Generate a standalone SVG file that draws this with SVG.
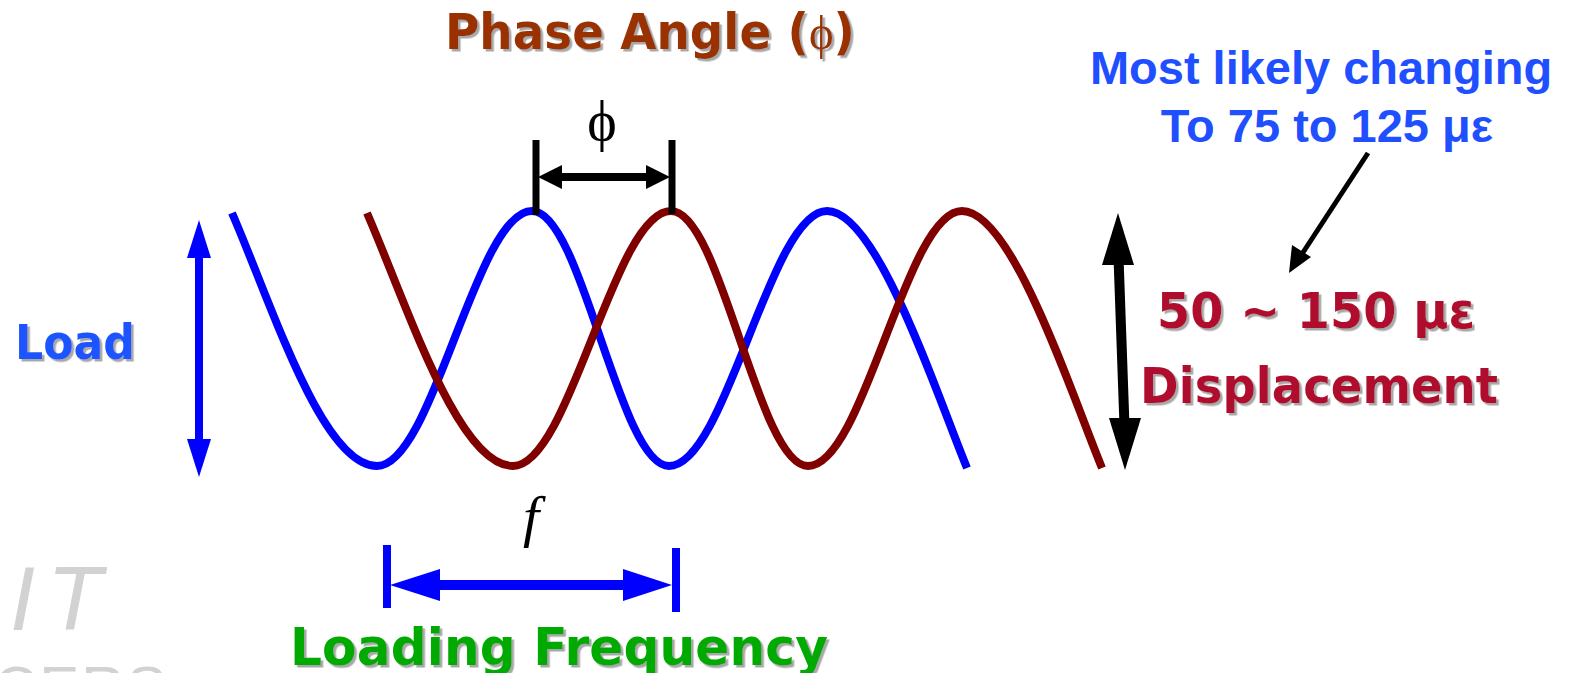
<svg xmlns="http://www.w3.org/2000/svg" width="1578" height="673" viewBox="0 0 1578 673">
<style>
.bold{font-family:"DejaVu Sans","Verdana",sans-serif;font-weight:bold}
.arial{font-family:"Liberation Sans",Arial,sans-serif;font-weight:bold}
.serif{font-family:"Liberation Serif","DejaVu Serif",serif}
.wave{fill:none;stroke-width:8;stroke-linecap:butt;stroke-linejoin:round}
.sh{filter:url(#sh)}
</style>
<defs>
<filter id="sh" x="-10%" y="-20%" width="120%" height="150%">
<feDropShadow dx="2.5" dy="2.5" stdDeviation="0.6" flood-color="#a8a8a8"/>
</filter>
</defs>
<rect width="1578" height="673" fill="#ffffff"/>

<g id="watermark" fill="#d2d2d2" font-family="Liberation Sans,Arial,sans-serif">
<text x="10" y="630" font-size="90" font-style="italic" letter-spacing="12">IT</text>
<text x="-6" y="708" font-size="60" letter-spacing="2">CERS</text>
</g>

<g id="title">
<text class="bold sh" x="445" y="49" font-size="49" fill="#993300" textLength="410" lengthAdjust="spacingAndGlyphs">Phase Angle (<tspan class="serif" font-weight="normal">ϕ</tspan>)</text>
</g>

<g id="note">
<text class="arial" x="1321" y="84" font-size="47" fill="#1f4fff" text-anchor="middle">Most likely changing</text>
<text class="arial" x="1327" y="142" font-size="47" fill="#1f4fff" text-anchor="middle">To 75 to 125 με</text>
</g>

<g id="load-label">
<text class="bold sh" x="15" y="359" font-size="48" fill="#1f55ff" textLength="120" lengthAdjust="spacingAndGlyphs">Load</text>
</g>

<g id="displacement-label">
<text class="bold sh" x="1157" y="328" font-size="50" fill="#b0102e" textLength="318" lengthAdjust="spacingAndGlyphs">50 ~ 150 με</text>
<text class="bold sh" x="1140" y="403" font-size="50" fill="#b0102e" textLength="358" lengthAdjust="spacingAndGlyphs">Displacement</text>
</g>

<g id="frequency-label">
<text class="bold sh" x="290" y="665" font-size="52" fill="#00aa00" textLength="538" lengthAdjust="spacingAndGlyphs">Loading Frequency</text>
</g>

<g id="blue-wave">
<path class="wave" stroke="#0000ff" d="M232,213 C272,305 322,466 377,466 C433,466 476,211 532,211 C582,211 619,466 669,466 C726,466 770,211 827,211 C877,211 935,390 967,468"/>
</g>

<g id="red-wave">
<path class="wave" stroke="#800000" d="M367,213 C407,305 458,466 513,466 C570,466 614,211 671,211 C721,211 758,466 808,466 C864,466 906,211 962,211 C1012,211 1070,390 1102,468"/>
</g>

<g id="phi-label">
<text class="serif" x="602" y="140" font-size="56" fill="#000" text-anchor="middle">ϕ</text>
</g>

<g id="f-label">
<text class="serif" x="531" y="536" font-size="58" font-style="italic" fill="#000" text-anchor="middle">f</text>
</g>

<g id="connectors">
<!-- load double arrow -->
<line x1="199" y1="255" x2="199" y2="442" stroke="#0000ff" stroke-width="8"/>
<polygon points="199,220 211,258 187,258" fill="#0000ff"/>
<polygon points="199,477 211,439 187,439" fill="#0000ff"/>

<!-- displacement double arrow -->
<line x1="1118.6" y1="260" x2="1124.4" y2="423" stroke="#000" stroke-width="10"/>
<polygon points="1118,213 1134,265 1102,265" fill="#000"/>
<polygon points="1125,470 1141,418 1109,418" fill="#000"/>

<!-- phase angle dimension -->
<line x1="536" y1="140" x2="536" y2="215" stroke="#000" stroke-width="7"/>
<line x1="672" y1="140" x2="672" y2="214" stroke="#000" stroke-width="7"/>
<line x1="558" y1="177" x2="651" y2="177" stroke="#000" stroke-width="8"/>
<polygon points="538,177 562,165 562,189" fill="#000"/>
<polygon points="670,177 646,165 646,189" fill="#000"/>

<!-- loading frequency dimension -->
<line x1="387" y1="545" x2="387" y2="608" stroke="#0000ff" stroke-width="8"/>
<line x1="676" y1="548" x2="676" y2="612" stroke="#0000ff" stroke-width="8"/>
<line x1="436" y1="585" x2="627" y2="585" stroke="#0000ff" stroke-width="10"/>
<polygon points="390,585 440,569 440,601" fill="#0000ff"/>
<polygon points="672,585 623,569 623,601" fill="#0000ff"/>

<!-- note pointer -->
<line x1="1368" y1="153" x2="1302" y2="254" stroke="#000" stroke-width="5"/>
<polygon points="1289,273 1292,245 1311,257" fill="#000"/>
</g>
</svg>
